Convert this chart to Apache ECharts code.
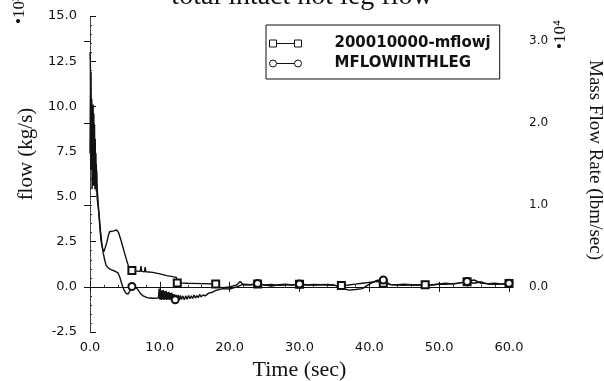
<!DOCTYPE html>
<html>
<head>
<meta charset="utf-8">
<script src="https://cdn.jsdelivr.net/npm/echarts@6/dist/echarts.min.js"></script>
<style>
  html, body { margin: 0; padding: 0; background: #fff; }
  #chart { width: 604px; height: 381px; }
</style>
</head>
<body>
<div id="chart"></div>
<script>
// 200010000-mflowj (squares), flow in kg/s * 10^3
const time1 = [0, 0.08, 0.16, 0.24, 0.32, 0.4, 0.48, 0.56, 0.64, 0.72, 0.8, 0.9, 1.0, 1.15, 1.3, 1.45, 1.6, 1.8, 2.0, 2.2,
  2.4, 2.6, 2.8, 3.0, 3.4, 3.8, 4.1, 4.5, 5.0, 5.5, 5.8, 6.0, 6.6, 7.2, 7.3, 7.4, 7.8, 7.9, 8.0, 9.0,
  10, 11, 12, 12.4, 12.5, 14, 16, 18, 18.2, 19, 20, 21, 21.5, 22, 23, 24, 25, 26, 27, 28,
  29, 30, 31, 32, 33, 34, 35, 36, 37, 38, 39, 40, 41, 42, 43, 44, 45, 46, 47, 48,
  49, 50, 51, 52, 53, 54, 55, 56, 57, 58, 59, 60]
const flow1 = [7.4, 10.6, 8.2, 9.8, 7.4, 9.0, 7.0, 8.4, 6.6, 7.6, 6.3, 6.8, 5.6, 4.8, 3.9, 3.1, 2.5, 2.1, 1.95, 2.2,
  2.45, 2.8, 3.05, 3.15, 3.1, 3.15, 3.0, 2.5, 1.8, 1.15, 0.95, 0.9, 0.88, 0.86, 1.15, 0.86, 0.84, 1.1, 0.84, 0.8,
  0.72, 0.62, 0.55, 0.52, 0.22, 0.2, 0.18, 0.16, 0.0, -0.05, 0.0, 0.1, 0.3, 0.1, 0.12, 0.16, 0.1, 0.14, 0.08, 0.1,
  0.12, 0.14, 0.1, 0.14, 0.12, 0.1, 0.08, 0.07, 0.1, 0.15, 0.2, 0.25, 0.3, 0.2, 0.14, 0.12, 0.15, 0.12, 0.1, 0.11,
  0.12, 0.15, 0.14, 0.18, 0.22, 0.28, 0.2, 0.28, 0.15, 0.14, 0.16, 0.18]
const squareTimes = [6.0, 12.5, 18, 24, 30, 36, 42, 48, 54, 60]

// MFLOWINTHLEG (circles)
const time2 = [0, 0.05, 0.1, 0.15, 0.2, 0.25, 0.3, 0.35, 0.4, 0.45, 0.5, 0.55, 0.6, 0.65, 0.7, 0.75, 0.8, 0.85, 0.9, 0.95,
  1.0, 1.1, 1.3, 1.5, 1.7, 1.9, 2.1, 2.3, 2.6, 3.0, 3.5, 4.0, 4.3, 4.6, 4.9, 5.2, 5.5, 5.8, 6.0, 6.4,
  6.8, 7.2, 7.6, 8.2, 9.0,
  9.8, 9.9, 10.0, 10.1, 10.2, 10.3, 10.4, 10.5, 10.6, 10.7, 10.8, 10.9, 11.0, 11.1, 11.2, 11.3, 11.4, 11.5, 11.6, 11.7,
  11.8, 11.9, 12.0, 12.1, 12.2, 12.35, 12.5, 12.65, 12.8, 12.95, 13.1, 13.3, 13.5, 13.7, 13.9, 14.1, 14.3, 14.5, 14.7, 14.9,
  15.1, 15.3, 15.5, 15.7, 15.9, 16.2, 16.5, 17.0, 17.5, 18.0,
  18.5, 19, 20, 21, 22, 23, 24, 25, 26, 27, 28, 29, 30, 31, 32, 33, 34, 35, 36, 37,
  38, 39, 40, 41, 42, 43, 44, 45, 46, 47, 48, 49, 50, 51, 52, 53, 54, 55, 56, 57,
  58, 59, 60]
const flow2 = [13.0, 12.4, 6.5, 11.9, 7.2, 10.4, 5.4, 10.0, 6.0, 10.1, 5.6, 9.6, 6.2, 9.0, 5.4, 8.2, 5.9, 7.4, 5.3, 6.4,
  5.0, 4.9, 4.0, 3.1, 2.4, 1.85, 1.5, 1.2, 1.05, 0.95, 0.88, 0.78, 0.5, 0.1, -0.2, -0.38, -0.38, -0.15, 0.02, 0.0,
  -0.12, -0.35, -0.5, -0.6, -0.63,
  -0.62, -0.1, -0.7, -0.15, -0.72, -0.2, -0.7, -0.18, -0.72, -0.25, -0.7, -0.22, -0.72, -0.3, -0.7, -0.28, -0.72, -0.35, -0.7, -0.32,
  -0.72, -0.4, -0.7, -0.42, -0.72, -0.45, -0.7, -0.45, -0.72, -0.48, -0.7, -0.5, -0.72, -0.5, -0.68, -0.48, -0.66, -0.5, -0.65, -0.45,
  -0.62, -0.48, -0.6, -0.42, -0.55, -0.45, -0.5, -0.35, -0.3, -0.2,
  -0.15, -0.1, -0.12, 0.0, 0.15, 0.12, 0.18, 0.1, 0.05, 0.12, 0.15, 0.1, 0.16, 0.12, 0.08, 0.12, 0.14, 0.1, -0.05, -0.18,
  -0.15, -0.1, 0.15, 0.35, 0.38, 0.12, 0.1, 0.08, 0.12, 0.1, 0.12, 0.1, 0.16, 0.2, 0.15, 0.22, 0.3, 0.38, 0.2, 0.18,
  0.2, 0.15, 0.2]
const circleTimes = [6.0, 12.2, 24, 30, 42, 54, 60]

const leftTicks = [-2.5, 0, 2.5, 5, 7.5, 10, 12.5, 15]
const rightTicks = [0, 1, 2, 3]
const KG_PER_LBM4 = 4.5359 // 1e4 lbm/s expressed in 1e3 kg/s

const serif = 'Liberation Serif'
const sans = 'DejaVu Sans'

// markers only at a few points, like the plotting program did
function buildData(times, vals, marks, sym) {
  return times.map((t, i) => ({
    value: [t, vals[i]],
    symbol: marks.includes(t) ? sym : 'none'
  }))
}

const chart = echarts.init(document.getElementById('chart'))

chart.setOption({
  animation: false,
  title: {
    text: 'total intact hot leg flow',
    left: 'center',
    top: -17,
    padding: 0,
    textStyle: { fontFamily: serif, fontSize: 28, fontWeight: 'normal', color: '#111' }
  },
  legend: {
    orient: 'vertical',
    left: 266,
    top: 25,
    padding: [11, 9, 8, 3],
    itemWidth: 32,
    itemHeight: 7,
    itemGap: 5,
    borderColor: '#111',
    borderWidth: 1,
    selectedMode: false,
    itemStyle: { color: '#fff', borderColor: '#111', borderWidth: 1 },
    textStyle: { fontFamily: sans, fontSize: 15, fontWeight: 'bold', color: '#111', lineHeight: 14, padding: [0, 0, 0, 28] },
    data: [
      { name: '200010000-mflowj', icon: 'path://M0,0L7,0L7,7L0,7ZM7,3.5L25,3.5M25,0L32,0L32,7L25,7Z' },
      { name: 'MFLOWINTHLEG', icon: 'path://M0,3.5A3.5,3.5,0,1,0,7,3.5A3.5,3.5,0,1,0,0,3.5ZM7,3.5L25,3.5M25,3.5A3.5,3.5,0,1,0,32,3.5A3.5,3.5,0,1,0,25,3.5Z' }
    ]
  },
  grid: { left: 90, right: 95, top: 16, bottom: 49, outerBoundsMode: 'none' },
  xAxis: [
    {
      type: 'value',
      min: 0,
      max: 60,
      interval: 10,
      name: 'Time (sec)',
      nameLocation: 'middle',
      nameGap: 23,
      nameTextStyle: { fontFamily: serif, fontSize: 22, color: '#111' },
      axisLine: { lineStyle: { color: '#111', width: 1 } },
      axisTick: { inside: true, length: 5, lineStyle: { color: '#111' } },
      minorTick: { show: true, splitNumber: 5, length: 2, lineStyle: { color: '#333' } },
      splitLine: { show: false },
      axisLabel: { margin: 9, fontFamily: sans, fontSize: 13, color: '#111', formatter: v => v.toFixed(1) }
    },
    {
      type: 'value',
      position: 'top',
      min: 0,
      max: 60,
      interval: 10,
      axisLine: { lineStyle: { color: '#111', width: 1 } },
      axisTick: { inside: true, length: 5, lineStyle: { color: '#111' } },
      splitLine: { show: false },
      axisLabel: { show: false }
    }
  ],
  yAxis: [
    {
      type: 'value',
      min: -2.5,
      max: 15,
      interval: 2.5,
      name: 'flow (kg/s)',
      nameLocation: 'middle',
      nameRotate: 90,
      nameGap: 46,
      nameTextStyle: { fontFamily: serif, fontSize: 21, color: '#111', padding: [0, 0, 0, 40] },
      axisLine: { show: true, lineStyle: { color: '#222', width: 1, type: 'dotted' } },
      axisTick: { inside: true, length: 6, lineStyle: { color: '#111' } },
      minorTick: { show: true, splitNumber: 5, length: 2, lineStyle: { color: '#333' } },
      splitLine: { show: false },
      axisLabel: { margin: 13, fontFamily: sans, fontSize: 13, color: '#111', formatter: v => v.toFixed(1),
        customValues: leftTicks }
    },
    {
      type: 'value',
      position: 'right',
      min: -2.5 / KG_PER_LBM4,
      max: 15 / KG_PER_LBM4,
      name: 'Mass Flow Rate (lbm/sec)',
      nameLocation: 'middle',
      nameRotate: -90,
      nameGap: 76,
      nameTextStyle: { fontFamily: serif, fontSize: 19, color: '#111', padding: [0, 28, 0, 0] },
      axisLine: { show: true, lineStyle: { color: '#444', width: 1, type: [6, 2, 1, 2] } },
      axisTick: { inside: true, length: 6, lineStyle: { color: '#111' }, customValues: rightTicks },
      splitLine: { show: false },
      axisLabel: { margin: 20, fontFamily: sans, fontSize: 12, color: '#111', formatter: v => v.toFixed(1),
        customValues: rightTicks }
    }
  ],
  graphic: [
    {
      type: 'text', x: 11, y: 24, rotation: Math.PI / 2,
      style: { text: '•10³', fontFamily: serif, fontSize: 17, fill: '#111' }
    },
    {
      type: 'text', x: 552, y: 49, rotation: Math.PI / 2,
      style: { text: '•10⁴', fontFamily: serif, fontSize: 17, fill: '#111' }
    }
  ],
  series: [
    {
      name: '200010000-mflowj',
      type: 'line',
      symbol: 'emptyRect',
      symbolSize: 7,
      showSymbol: true,
      showAllSymbol: true,
      lineStyle: { color: '#111', width: 1.4 },
      itemStyle: { color: '#111', borderWidth: 1.2 },
      data: buildData(time1, flow1, squareTimes, 'emptyRect')
    },
    {
      name: 'MFLOWINTHLEG',
      type: 'line',
      symbol: 'emptyCircle',
      symbolSize: 7,
      showSymbol: true,
      showAllSymbol: true,
      lineStyle: { color: '#111', width: 1.4 },
      itemStyle: { color: '#111', borderWidth: 1.2 },
      data: buildData(time2, flow2, circleTimes, 'emptyCircle')
    }
  ]
})
</script>
</body>
</html>
